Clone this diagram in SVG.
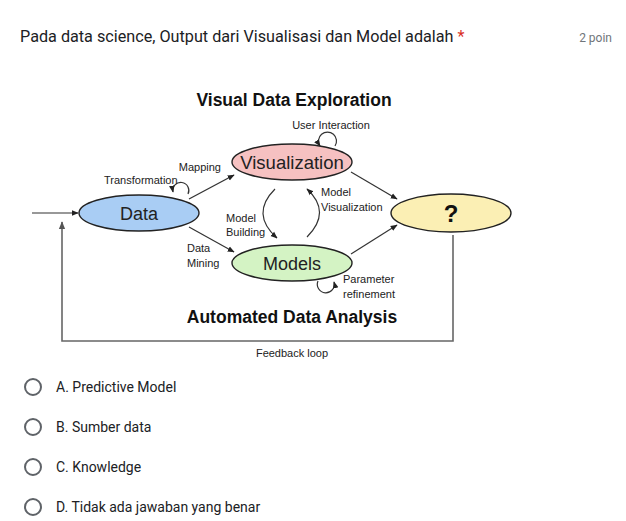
<svg xmlns="http://www.w3.org/2000/svg" width="626" height="521" viewBox="0 0 626 521">
<defs>
<style>
.q{font-family:Roboto,"Liberation Sans",sans-serif;fill:#202124}
.d{font-family:"Liberation Sans",Arial,sans-serif;fill:#222}
.lbl{font-size:11px}
.big{font-size:18px}
.h{font-size:17.5px;font-weight:bold;fill:#111}
.c{fill:none;stroke:#333;stroke-width:1.2}
.fb{fill:none;stroke:#666;stroke-width:1.6}
.n{stroke:#222;stroke-width:1.4}
.r{fill:none;stroke:#5f6368;stroke-width:2}
</style>
<marker id="a" viewBox="0 0 10 10" refX="9" refY="5" markerWidth="7" markerHeight="7" orient="auto" markerUnits="userSpaceOnUse"><path d="M0,1 L10,5 L0,9 z" fill="#222"/></marker>
<marker id="ag" viewBox="0 0 10 10" refX="9" refY="5" markerWidth="8" markerHeight="8" orient="auto" markerUnits="userSpaceOnUse"><path d="M0,1 L10,5 L0,9 z" fill="#555"/></marker>
</defs>
<rect width="626" height="521" fill="#fff"/>
<text class="q" x="20" y="42" font-size="16.2">Pada data science, Output dari Visualisasi dan Model adalah <tspan fill="#d93025">*</tspan></text>
<text class="q" x="612" y="42" font-size="12" text-anchor="end" style="fill:#70757a">2 poin</text>

<text class="d h" x="294" y="106" text-anchor="middle">Visual Data Exploration</text>
<text class="d h" x="292" y="323" text-anchor="middle">Automated Data Analysis</text>

<g id="connectors">
<path class="c" d="M32,213 L78,213" marker-end="url(#a)"/>
<path class="c" d="M189,199 L234,175" marker-end="url(#a)"/>
<path class="c" d="M189,227 L234,252" marker-end="url(#a)"/>
<path class="c" d="M351,172 L397,199" marker-end="url(#a)"/>
<path class="c" d="M351,254 L397,225" marker-end="url(#a)"/>
<path class="c" d="M275,189 Q250,214 277,238" marker-end="url(#a)"/>
<path class="c" d="M307,237 Q332,212 307,189" marker-end="url(#a)"/>
<path class="c" d="M335,146 A9,9 0 1 0 320,146" marker-end="url(#a)"/>
<path class="c" d="M188,194 A8,8 0 1 0 173,192" marker-end="url(#a)"/>
<path class="c" d="M318,281 A8.5,8.5 0 1 0 334,282" marker-end="url(#a)"/>
<path class="fb" d="M453,235 L453,341 L62,341 L62,222" marker-end="url(#ag)"/>
</g>

<g id="data"><ellipse class="n" cx="139" cy="213" rx="60" ry="18" fill="#a9cdf4"/><text class="d big" x="139" y="219.5" text-anchor="middle">Data</text></g>
<g id="visualization"><ellipse class="n" cx="292" cy="162" rx="60" ry="18" fill="#f6c1c1"/><text class="d" x="292" y="168.5" text-anchor="middle" font-size="18.5">Visualization</text></g>
<g id="models"><ellipse class="n" cx="292" cy="263" rx="60" ry="18" fill="#d4f3c4"/><text class="d big" x="292" y="269.5" text-anchor="middle">Models</text></g>
<g id="knowledge"><ellipse class="n" cx="451" cy="213" rx="60" ry="19" fill="#fbefb4"/><text class="d" x="451" y="222" text-anchor="middle" font-size="24" font-weight="bold" style="fill:#111">?</text></g>

<g id="labels">
<text class="d lbl" x="331" y="129" text-anchor="middle">User Interaction</text>
<text class="d lbl" x="221" y="171" text-anchor="end">Mapping</text>
<text class="d lbl" x="104" y="184">Transformation</text>
<text class="d lbl" x="321" y="196">Model</text>
<text class="d lbl" x="321" y="211">Visualization</text>
<text class="d lbl" x="226" y="222">Model</text>
<text class="d lbl" x="226" y="236">Building</text>
<text class="d lbl" x="187" y="252">Data</text>
<text class="d lbl" x="187" y="267">Mining</text>
<text class="d lbl" x="343" y="283">Parameter</text>
<text class="d lbl" x="343" y="298">refinement</text>
<text class="d lbl" x="292" y="357" text-anchor="middle">Feedback loop</text>
</g>

<g id="options">
<circle class="r" cx="33" cy="387" r="8"/><text class="q" x="56" y="392" font-size="14">A. Predictive Model</text>
<circle class="r" cx="33" cy="427" r="8"/><text class="q" x="56" y="432" font-size="14">B. Sumber data</text>
<circle class="r" cx="33" cy="467" r="8"/><text class="q" x="56" y="472" font-size="14">C. Knowledge</text>
<circle class="r" cx="33" cy="507" r="8"/><text class="q" x="56" y="512" font-size="14">D. Tidak ada jawaban yang benar</text>
</g>
</svg>
